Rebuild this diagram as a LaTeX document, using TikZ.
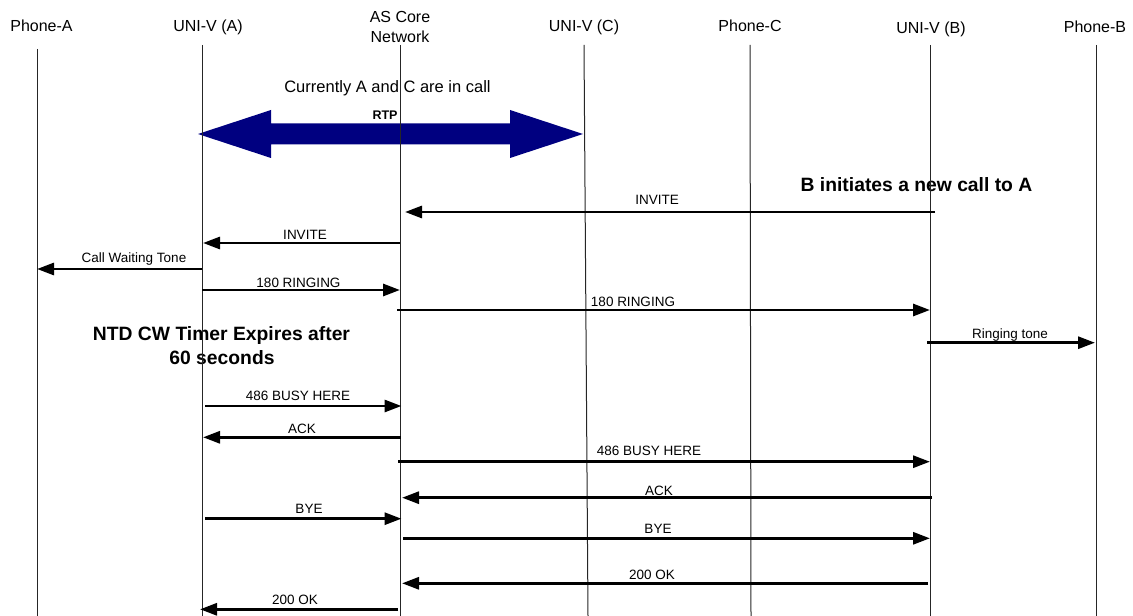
\documentclass[tikz,border=0pt]{standalone}
\usepackage{fontspec}
\setmainfont{Liberation Sans}
\usetikzlibrary{arrows.meta}
\definecolor{rtpnavy}{HTML}{000080}
\begin{document}
\begin{tikzpicture}[x=1bp,y=-1bp,
  life/.style={line width=1bp, draw=black!85},
  msg/.style={line width=2.9bp, -{Triangle[length=17bp,width=12bp]}},
  hdr/.style={font=\fontsize{16bp}{18bp}\selectfont, anchor=base, inner sep=0},
  lbl/.style={font=\fontsize{13.5bp}{15bp}\selectfont, anchor=base, inner sep=0},
  note/.style={font=\bfseries\fontsize{19.3bp}{22bp}\selectfont, anchor=base, inner sep=0}]
\useasboundingbox (0,0) rectangle (1133,616);

% headers
\node[hdr] (hPA) at (41.5,31.7) {Phone-A};
\node[hdr] (hUA) at (208,32) {UNI-V (A)};
\node[hdr] (hAS1) at (400,22.7) {AS Core};
\node[hdr] (hAS2) at (400,42.7) {Network};
\node[hdr] (hUC) at (584,32) {UNI-V (C)};
\node[hdr] (hPC) at (750,31.5) {Phone-C};
\node[hdr] (hUB) at (931,34) {UNI-V (B)};
\node[hdr] (hPB) at (1095,33) {Phone-B};

% notes
\node[hdr, font=\fontsize{16.5bp}{18bp}\selectfont] (cur) at (387.5,92.7) {Currently A and C are in call};
\node[note] (bnew) at (916.5,191.7) {B initiates a new call to A};
\node[note] (ntd1) at (221.5,340.7) {NTD CW Timer Expires after};
\node[note] (ntd2) at (222,364) {60 seconds};

% RTP double arrow
\fill[rtpnavy] (198,134) -- (271,110) -- (271,123.5) -- (510,123.5) -- (510,110) -- (583,134)
  -- (510,158) -- (510,144.5) -- (271,144.5) -- (271,158) -- cycle;
\node[anchor=base, inner sep=0, font=\bfseries\fontsize{12.5bp}{14bp}\selectfont] (rtp) at (385,119.3) {RTP};

% lifelines
\coordinate (tPA) at (37,49);    \coordinate (bPA) at (37,616);
\coordinate (tUA) at (202.5,45); \coordinate (bUA) at (202.5,616);
\coordinate (tAS) at (400,45);   \coordinate (bAS) at (400,616);
\coordinate (tUC) at (584,45);   \coordinate (bUC) at (588,616);
\coordinate (tPC) at (750,45);   \coordinate (bPC) at (751,616);
\coordinate (tUB) at (930,45);   \coordinate (bUB) at (930,616);
\coordinate (tPB) at (1096,45);  \coordinate (bPB) at (1096,616);
\foreach \l in {PA,UA,AS,UC,PC,UB,PB} \draw[life] (t\l) -- (b\l);

% messages
\coordinate (m1a) at (935,212);    \coordinate (m1b) at (405,212);
\coordinate (m2a) at (400,243);    \coordinate (m2b) at (203,243);
\coordinate (m3a) at (202,269);    \coordinate (m3b) at (37,269);
\coordinate (m4a) at (202,290);    \coordinate (m4b) at (400,290);
\coordinate (m5a) at (397,310);    \coordinate (m5b) at (930,310);
\coordinate (m6a) at (927,342.7);  \coordinate (m6b) at (1095,342.7);
\coordinate (m7a) at (205,406);    \coordinate (m7b) at (401.5,406);
\coordinate (m8a) at (400.5,437.3);\coordinate (m8b) at (203,437.3);
\coordinate (m9a) at (398,461.7);  \coordinate (m9b) at (930,461.7);
\coordinate (m10a) at (932,497.7); \coordinate (m10b) at (402,497.7);
\coordinate (m11a) at (205,518.7); \coordinate (m11b) at (401.5,518.7);
\coordinate (m12a) at (403,538.3); \coordinate (m12b) at (930,538.3);
\coordinate (m13a) at (928,583.3); \coordinate (m13b) at (402,583.3);
\coordinate (m14a) at (398,609.3); \coordinate (m14b) at (200,609.3);
\foreach \m in {1,...,14} \draw[msg] (m\m a) -- (m\m b);

% message labels
\node[lbl] (l1) at (657,204.3) {INVITE};
\node[lbl] (l2) at (305,240) {INVITE};
\node[lbl] (l3) at (134,262.7) {Call Waiting Tone};
\node[lbl] (l4) at (298.5,287.3) {180 RINGING};
\node[lbl] (l5) at (633,307) {180 RINGING};
\node[lbl] (l6) at (1010,339) {Ringing tone};
\node[lbl] (l7) at (298,400.7) {486 BUSY HERE};
\node[lbl] (l8) at (302,433) {ACK};
\node[lbl] (l9) at (649,455.7) {486 BUSY HERE};
\node[lbl] (l10) at (659,495) {ACK};
\node[lbl] (l11) at (309,513) {BYE};
\node[lbl] (l12) at (658,533.3) {BYE};
\node[lbl] (l13) at (652,579) {200 OK};
\node[lbl] (l14) at (295,604) {200 OK};
\end{tikzpicture}
\end{document}
